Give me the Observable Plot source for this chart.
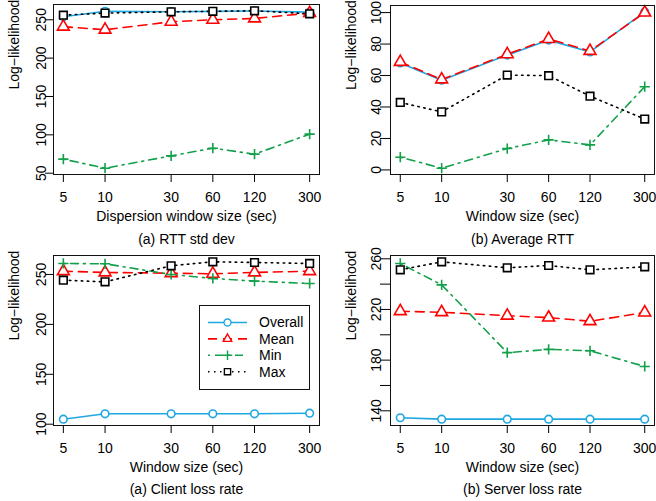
<!DOCTYPE html>
<html><head><meta charset="utf-8">
<script src="https://cdn.jsdelivr.net/npm/d3@7"></script>
<script src="https://cdn.jsdelivr.net/npm/@observablehq/plot@0.6"></script>
<style>
body{margin:0;background:#fff;font-family:"Liberation Sans",Arial,sans-serif;}
#wrap{position:relative;width:656px;height:501px;background:#fff;}
.panel{position:absolute;}
.panel svg{overflow:visible;}
</style></head><body><div id="wrap"></div>
<script>
// x categories (window sizes, sec)
const windows = [5, 10, 30, 60, 120, 300];
const seriesNames = ["Overall", "Mean", "Min", "Max"];

// (a) RTT std dev
const rttStdOverall = [254, 261, 260.5, 261, 261.5, 260];
const rttStdMean    = [241, 237, 247.4, 250, 251.7, 258.7];
const rttStdMin     = [68.3, 56.5, 72.6, 82.6, 74.8, 100.9];
const rttStdMax     = [256, 258.7, 260.4, 261, 261.7, 257.8];
// (b) Average RTT
const avgRttOverall = [68, 57, 73, 82.5, 75, 100.5];
const avgRttMean    = [68.6, 57.5, 73.5, 83.2, 75.6, 100];
const avgRttMin     = [8.1, 1.1, 13.6, 19.1, 15.9, 52.9];
const avgRttMax     = [42.9, 36.9, 60.3, 59.9, 46.9, 32.3];
// (a) Client loss rate
const clientOverall = [105, 110.4, 110.4, 110.4, 110.4, 111];
const clientMean    = [253.3, 252, 251.3, 250.7, 252, 253.3];
const clientMin     = [261, 260.7, 250, 246, 243.3, 241];
const clientMax     = [244.3, 242.6, 258.7, 262.7, 262, 261];
// (b) Server loss rate
const serverOverall = [134.5, 133.4, 133.4, 133.4, 133.4, 133.4];
const serverMean    = [218.6, 217.8, 215.1, 213.6, 210.7, 217.6];
const serverMin     = [256.3, 239.4, 185.9, 188.5, 187.4, 175];
const serverMax     = [251.3, 257.6, 252.9, 254.7, 251.3, 253.7];

// y tick values
const ticksA = [50, 100, 150, 200, 250];
const ticksB = [0, 20, 40, 60, 80, 100];
const ticksC = [100, 150, 200, 250];
const ticksD = [140, 160, 180, 200, 220, 240, 260];
const labelsD = [140, 180, 220, 260];

const yLabel = "Log\u2212likelihood";

const styles = {
  Overall: {stroke: "#1ea8e2", dash: null, symbol: "circle", r: 3.8, fill: "white"},
  Mean:    {stroke: "#ff0000", dash: "9,6", symbol: "triangle", r: 4.4, fill: "white"},
  Min:     {stroke: "#12a04a", dash: "2,5,8,5", symbol: "plus", r: 3.4, fill: "none"},
  Max:     {stroke: "#000000", dash: "1.5,4.5", symbol: "square", r: 4.3, fill: "white"}
};

const panels = [
  {left: 0, top: 0, w: 328, h: 250, mL: 53, mR: 9, mT: 4, mB: 76, yts: 8,
   domain: [48.3, 269.9], ticks: ticksA, labels: ticksA,
   xTitle: "Dispersion window size (sec)", caption: "(a) RTT std dev",
   series: [rttStdOverall, rttStdMean, rttStdMin, rttStdMax], dyT: 46, dyC: 69},
  {left: 328, top: 0, w: 328, h: 250, mL: 62, mR: 2, mT: 5, mB: 76, yts: 10,
   domain: [-2.9, 104.5], ticks: ticksB, labels: ticksB,
   xTitle: "Window size (sec)", caption: "(b) Average RTT",
   series: [avgRttOverall, avgRttMean, avgRttMin, avgRttMax], dyT: 46, dyC: 69},
  {left: 0, top: 250, w: 328, h: 251, mL: 53, mR: 9, mT: 5, mB: 76, yts: 8,
   domain: [98.7, 269], ticks: ticksC, labels: ticksC,
   xTitle: "Window size (sec)", caption: "(a) Client loss rate",
   series: [clientOverall, clientMean, clientMin, clientMax], dyT: 46, dyC: 68},
  {left: 328, top: 250, w: 328, h: 251, mL: 62, mR: 2, mT: 5, mB: 76, yts: 10,
   domain: [128.4, 262.6], ticks: ticksD, labels: labelsD,
   xTitle: "Window size (sec)", caption: "(b) Server loss rate",
   series: [serverOverall, serverMean, serverMin, serverMax], dyT: 46, dyC: 68}
];

const xDomain = [Math.pow(10, Math.log10(5) - 0.04 * Math.log10(60)), Math.pow(10, Math.log10(300) + 0.04 * Math.log10(60))];
const wrap = document.getElementById("wrap");
const FONT = "14px";

for (const p of panels) {
  const lineMarks = [], dotMarks = [];
  seriesNames.forEach((name, k) => {
    const st = styles[name];
    const data = windows.map((w, i) => ({w, v: p.series[k][i]}));
    lineMarks.push(Plot.line(data, {x: "w", y: "v", stroke: st.stroke, strokeWidth: 1.6,
      strokeDasharray: st.dash || undefined}));
    dotMarks.push(Plot.dot(data, {x: "w", y: "v", symbol: st.symbol, r: st.r, stroke: st.stroke,
      fill: st.fill, strokeWidth: 1.6}));
  });
  const chart = Plot.plot({
    width: p.w, height: p.h,
    marginLeft: p.mL, marginRight: p.mR, marginTop: p.mT, marginBottom: p.mB,
    x: {type: "log", domain: xDomain},
    y: {domain: p.domain},
    style: {fontFamily: '"Liberation Sans", Arial, sans-serif', fontSize: FONT, color: "#000", background: "white", overflow: "visible"},
    marks: [
      ...lineMarks,
      ...dotMarks,
      Plot.frame({stroke: "#111", strokeWidth: 1}),
      Plot.axisX(windows, {tickSize: 8, tickFormat: () => "", label: null}),
      Plot.text(windows, {x: d => d, frameAnchor: "bottom", lineAnchor: "top", dy: 18,
        text: d => String(d), fill: "#000"}),
      Plot.axisY(p.ticks, {tickSize: p.yts, tickFormat: () => "", label: null}),
      Plot.text(p.labels, {y: d => d, frameAnchor: "left", rotate: -90, lineAnchor: "bottom",
        textAnchor: "middle", dx: -(p.yts - 0.5), text: d => String(d), fill: "#000"}),
      Plot.text([yLabel], {frameAnchor: "left", rotate: -90, dx: -38.5, text: d => d, fill: "#000"}),
      Plot.text([p.xTitle], {frameAnchor: "bottom", dy: p.dyT, text: d => d, fill: "#000"}),
      Plot.text([p.caption], {frameAnchor: "bottom", dy: p.dyC, text: d => d, fill: "#000"})
    ]
  });
  const div = document.createElement("div");
  div.className = "panel";
  div.style.left = p.left + "px";
  div.style.top = p.top + "px";
  div.appendChild(chart);
  wrap.appendChild(div);
}

// legend (in the client loss panel)
const legDiv = document.createElement("div");
legDiv.className = "panel";
legDiv.style.left = "199px";
legDiv.style.top = "305px";
wrap.appendChild(legDiv);
const lw = 111, lh = 85;
const svg = d3.select(legDiv).append("svg").attr("width", lw).attr("height", lh)
  .style("font-family", '"Liberation Sans", Arial, sans-serif').style("font-size", FONT);
svg.append("rect").attr("x", 0.5).attr("y", 0.5).attr("width", lw - 1).attr("height", lh - 1)
  .attr("fill", "white").attr("stroke", "#111");
const symMap = {circle: d3.symbolCircle, triangle: d3.symbolTriangle2, plus: d3.symbolPlus, square: d3.symbolSquare2};
seriesNames.forEach((name, i) => {
  const st = styles[name];
  const y = 17.5 + i * 16.4;
  svg.append("line").attr("x1", 9).attr("x2", 48).attr("y1", y).attr("y2", y)
    .attr("stroke", st.stroke).attr("stroke-width", 1.6)
    .attr("stroke-dasharray", st.dash || null);
  svg.append("path").attr("transform", `translate(28.5,${y})`)
    .attr("d", d3.symbol(symMap[st.symbol], Math.PI * st.r * st.r * 0.85)())
    .attr("fill", st.fill).attr("stroke", st.stroke).attr("stroke-width", 1.4);
  svg.append("text").attr("x", 60).attr("y", y).attr("dy", "0.35em").text(name);
});
</script></body></html>
